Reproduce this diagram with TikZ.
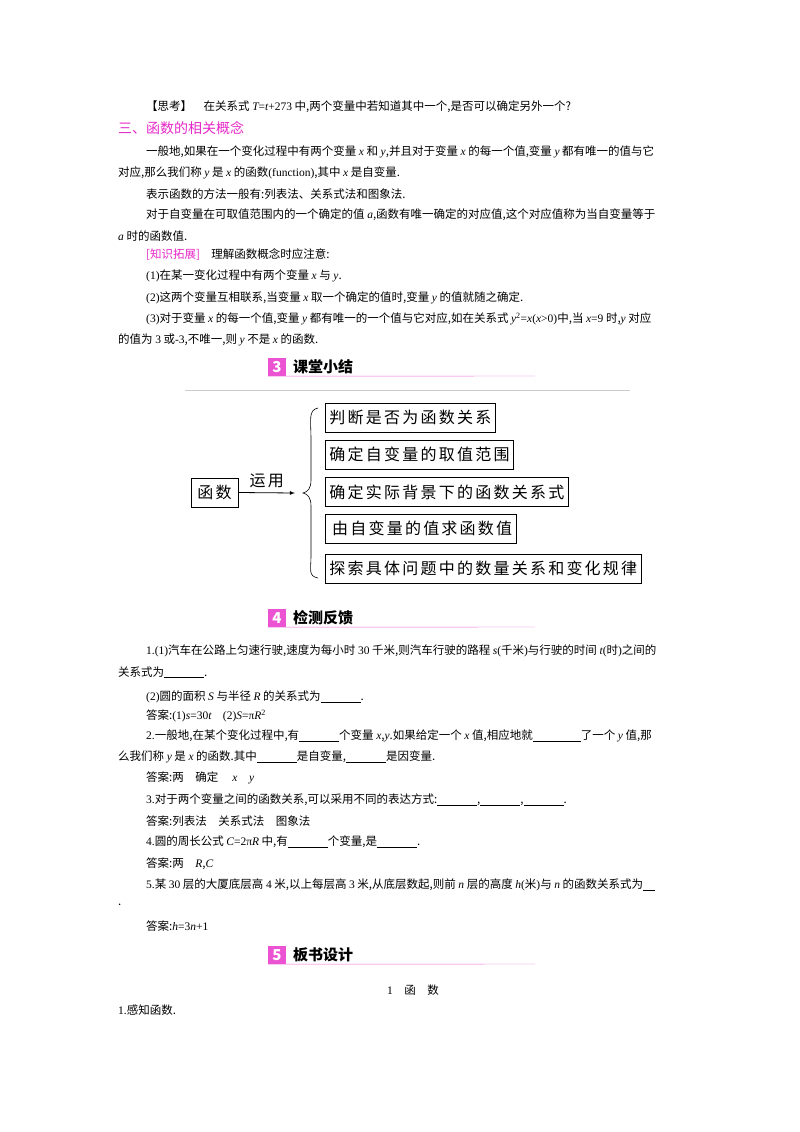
\documentclass[tikz,border=0pt]{standalone}
\usepackage{fontspec}
\setmainfont{Noto Sans CJK SC}
\newfontfamily\ls{Liberation Serif}
\newfontfamily\bxf[LetterSpace=14]{Noto Sans CJK SC}
\newcommand\vr[1]{{\ls\itshape #1}}
\newcommand\nm[1]{{\ls #1}}
\newcommand\bl[1]{\rule[-1.5pt]{#1pt}{0.5pt}}
\definecolor{pk}{RGB}{230,40,200}
\begin{document}
\begin{tikzpicture}[x=1pt,y=-1pt,
  txt/.style={anchor=west,inner sep=0pt,font=\fontsize{11.5}{13}\selectfont},
  bx/.style={draw,line width=0.8pt,anchor=west,minimum height=29pt,inner sep=4pt,font=\bxf\fontsize{16}{18}\selectfont},
  badge/.style={fill=pk!80,text=white,font=\bfseries\itshape\fontsize{15}{15}\selectfont,minimum width=18pt,minimum height=18pt,inner sep=0pt},
  ttl/.style={anchor=west,inner sep=0pt,font=\bfseries\fontsize{15}{15}\selectfont}]
\useasboundingbox (0,0) rectangle (800,1132);
\fill[white] (0,0) rectangle (800,1132);
\node[txt] (t1) at (146,107) {【思考】\quad 在关系式 \vr{T}\nm{=}\vr{t}\nm{+273} 中,两个变量中若知道其中一个,是否可以确定另外一个?};
\node[txt,text=pk,font=\fontsize{14}{15}\selectfont] (h3) at (118,128) {三、函数的相关概念};
\node[txt] (t2) at (146,152) {一般地,如果在一个变化过程中有两个变量 \vr{x} 和 \vr{y},并且对于变量 \vr{x} 的每一个值,变量 \vr{y} 都有唯一的值与它};
\node[txt] (t3) at (118,173) {对应,那么我们称 \vr{y} 是 \vr{x} 的函数\nm{(function)},其中 \vr{x} 是自变量.};
\node[txt] (t4) at (146,194) {表示函数的方法一般有:列表法、关系式法和图象法.};
\node[txt] (t5) at (146,215) {对于自变量在可取值范围内的一个确定的值 \vr{a},函数有唯一确定的对应值,这个对应值称为当自变量等于};
\node[txt] (t6) at (118,236) {\vr{a} 时的函数值.};
\node[txt] (t7) at (146,255) {{\color{pk}[知识拓展]}\quad 理解函数概念时应注意:};
\node[txt] (t8) at (146,276) {\nm{(1)}在某一变化过程中有两个变量 \vr{x} 与 \vr{y}.};
\node[txt] (t9) at (146,298) {\nm{(2)}这两个变量互相联系,当变量 \vr{x} 取一个确定的值时,变量 \vr{y} 的值就随之确定.};
\node[txt] (t10) at (146,319) {\nm{(3)}对于变量 \vr{x} 的每一个值,变量 \vr{y} 都有唯一的一个值与它对应,如在关系式 \vr{y}\nm{\textsuperscript{2}=}\vr{x}\nm{(}\vr{x}\nm{>0)}中,当 \vr{x}\nm{=9} 时,\vr{y} 对应};
\node[txt] (t11) at (118,340) {的值为 \nm{3} 或\nm{-3},不唯一,则 \vr{y} 不是 \vr{x} 的函数.};
% header 3
\node[badge] (b3) at (277,367) {3};
\node[ttl] (s3) at (293,367) {课堂小结};
\draw[pk!70] (b3.south west) -- (535,376);
\draw[gray!40] (185,390) -- (630,390);
% diagram
\node[draw,line width=0.8pt,minimum width=47pt,minimum height=29pt,inner sep=0pt,font=\bxf\fontsize{16}{18}\selectfont] (f) at (214.5,492.5) {函数};
\coordinate (ae) at (295,493);
\draw[line width=0.8pt,-latex] (f.east) -- node[above=1pt,font=\bxf\fontsize{16}{18}\selectfont] {运用} (ae);
\node[bx] (c1) at (325,417.5) {判断是否为函数关系};
\node[bx] (c2) at (325,454.5) {确定自变量的取值范围};
\node[bx] (c3) at (325,492) {确定实际背景下的函数关系式};
\node[bx] (c4) at (325,528.5) {\,由自变量的值求函数值};
\node[bx] (c5) at (325,568.5) {探索具体问题中的数量关系和变化规律};
\draw[line width=0.6pt] (318,408) .. controls (308,410) and (311,420) .. (311,440) -- (311,480) .. controls (311,488) and (308,492) .. (303,493) .. controls (308,494) and (311,498) .. (311,506) -- (311,555) .. controls (311,570) and (308,576) .. (318,578);
% header 4
\node[badge] (b4) at (277,618) {4};
\node[ttl] (s4) at (293,618) {检测反馈};
\draw[pk!70] (b4.south west) -- (535,627);
\node[txt] (q1) at (146,651) {\nm{1.(1)}汽车在公路上匀速行驶,速度为每小时 \nm{30} 千米,则汽车行驶的路程 \vr{s}\nm{(}千米\nm{)}与行驶的时间 \vr{t}\nm{(}时\nm{)}之间的};
\node[txt] (q2) at (118,672) {关系式为\bl{40}.};
\node[txt] (q3) at (146,697) {\nm{(2)}圆的面积 \vr{S} 与半径 \vr{R} 的关系式为\bl{40}.};
\node[txt] (q4) at (146,716) {答案:\nm{(1)}\vr{s}\nm{=30}\vr{t}\quad\nm{(2)}\vr{S}\nm{=π}\vr{R}\nm{\textsuperscript{2}}};
\node[txt] (q5) at (146,736) {\nm{2.}一般地,在某个变化过程中,有\bl{40}个变量 \vr{x},\vr{y}.如果给定一个 \vr{x} 值,相应地就\bl{48}了一个 \vr{y} 值,那};
\node[txt] (q6) at (118,757) {么我们称 \vr{y} 是 \vr{x} 的函数.其中\bl{40}是自变量,\bl{40}是因变量.};
\node[txt] (q7) at (146,778) {答案:两\quad 确定\quad\ \vr{x}\quad\vr{y}};
\node[txt] (q8) at (146,800) {\nm{3.}对于两个变量之间的函数关系,可以采用不同的表达方式:\bl{40},\bl{40},\bl{40}.};
\node[txt] (q9) at (146,821) {答案:列表法\quad 关系式法\quad 图象法};
\node[txt] (q10) at (146,842) {\nm{4.}圆的周长公式 \vr{C}\nm{=2π}\vr{R} 中,有\bl{40}个变量,是\bl{40}.};
\node[txt] (q11) at (146,864) {答案:两\quad\vr{R},\vr{C}};
\node[txt] (q12) at (146,885) {\nm{5.}某 \nm{30} 层的大厦底层高 \nm{4} 米,以上每层高 \nm{3} 米,从底层数起,则前 \vr{n} 层的高度 \vr{h}\nm{(}米\nm{)}与 \vr{n} 的函数关系式为\bl{12}};
\node[txt] (q13) at (118,905) {.};
\node[txt] (q14) at (146,926) {答案:\vr{h}\nm{=3}\vr{n}\nm{+1}};
% header 5
\node[badge] (b5) at (277,955) {5};
\node[ttl] (s5) at (293,955) {板书设计};
\draw[pk!70] (b5.south west) -- (535,964);
\node[txt,anchor=center] (z1) at (413,990) {\nm{1}\quad 函\quad 数};
\node[txt] (z2) at (118,1010) {\nm{1.}感知函数.};
\end{tikzpicture}
\end{document}
